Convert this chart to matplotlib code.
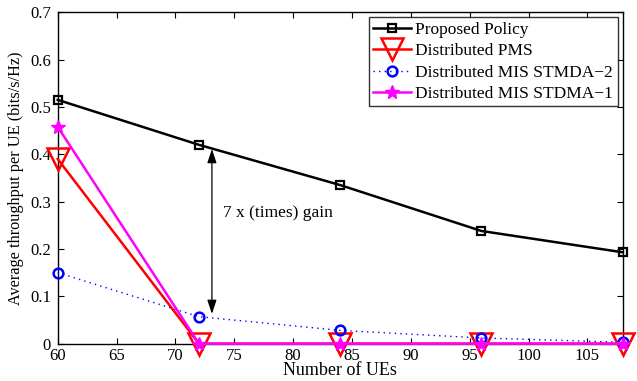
import matplotlib
matplotlib.use("Agg")
import matplotlib.pyplot as plt

x_ues = [60, 72, 84, 96, 108]
proposed = [0.515, 0.420, 0.335, 0.238, 0.193]
dist_pms = [0.390, 0.0, 0.0, 0.0, 0.0]
mis_stdma2 = [0.150, 0.057, 0.028, 0.012, 0.003]
mis_stdma1 = [0.458, 0.0, 0.0, 0.0, 0.0]
xticks = [60, 65, 70, 75, 80, 85, 90, 95, 100, 105]
yticks = [0, 0.1, 0.2, 0.3, 0.4, 0.5, 0.6, 0.7]
ytick_labels = ["0", "0.1", "0.2", "0.3", "0.4", "0.5", "0.6", "0.7"]

plt.rcParams['font.family'] = ['Liberation Serif', 'DejaVu Serif']
fig = plt.figure(figsize=(6.37, 3.81), dpi=100)
ax = fig.add_axes([0.0906, 0.098, 0.887, 0.8698])

ax.plot(x_ues, proposed, color='black', lw=1.8, marker='s', ms=6, mfc='none', mew=1.6,
        label='Proposed Policy', zorder=5, clip_on=False)
ax.plot(x_ues, dist_pms, color='red', lw=1.8, marker='v', ms=16, mfc='none', mew=1.8,
        label='Distributed PMS', zorder=3, clip_on=False)
ax.plot(x_ues, mis_stdma2, color='blue', lw=1.0, ls=(0, (1, 3)), marker='o', ms=7, mfc='none',
        mew=1.8, label='Distributed MIS STMDA\u22122', zorder=3, clip_on=False)
ax.plot(x_ues, mis_stdma1, color='magenta', lw=1.8, marker='*', ms=10,
        label='Distributed MIS STDMA\u22121', zorder=4, clip_on=False)

ax.annotate('', xy=(73.1, 0.057), xytext=(73.1, 0.417),
            arrowprops=dict(arrowstyle='<|-|>,head_length=0.6,head_width=0.2', color='black',
                            lw=0.9, mutation_scale=14))
ax.text(74.0, 0.276, '7 x (times) gain', fontsize=12.5, va='center', ha='left')

ax.set_xlim(60, 108)
ax.set_ylim(0, 0.7)
ax.set_xticks(xticks)
ax.set_yticks(yticks)
ax.set_yticklabels(ytick_labels)
ax.tick_params(direction='in', top=True, right=True, labelsize=12, length=4)
ax.tick_params(axis='x', pad=3)
ax.tick_params(axis='y', pad=5)
ax.set_xlabel('Number of UEs', fontsize=13, labelpad=-1)
ax.set_ylabel('Average throughput per UE (bits/s/Hz)', fontsize=11.7, labelpad=4)
for s in ax.spines.values():
    s.set_linewidth(1.0)

leg = ax.legend(loc='upper right', fontsize=12.5, frameon=True, fancybox=False, edgecolor='black',
                borderaxespad=0.3, handlelength=2.2, labelspacing=0.3, borderpad=0.25,
                handletextpad=0.25)
leg.get_frame().set_linewidth(1.0)
leg.set_zorder(10)

fig.savefig('out.png', dpi=100)
